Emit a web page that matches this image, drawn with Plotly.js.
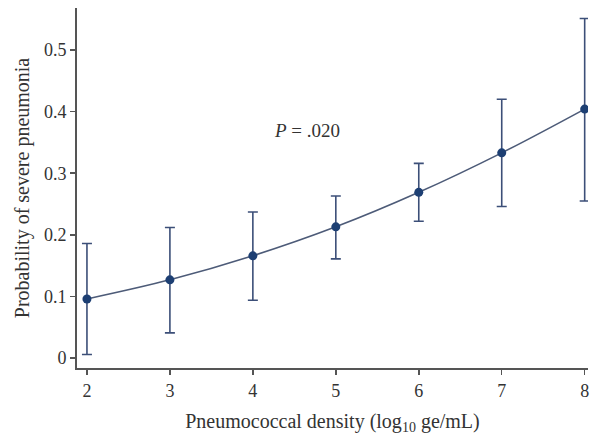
<!DOCTYPE html>
<html>
<head>
<meta charset="utf-8">
<script src="https://cdn.plot.ly/plotly-3.0.1.min.js"></script>
<style>html,body{margin:0;padding:0;background:#fff;}#chart{width:592px;height:437px;}</style>
</head>
<body>
<div id="chart"></div>
<script>
const density = [2, 3, 4, 5, 6, 7, 8];
const probability = [0.096, 0.127, 0.166, 0.213, 0.269, 0.333, 0.404];
const upperCI = [0.186, 0.212, 0.237, 0.263, 0.316, 0.420, 0.551];
const lowerCI = [0.006, 0.041, 0.094, 0.161, 0.222, 0.246, 0.255];
const yTicks = [0, 0.1, 0.2, 0.3, 0.4, 0.5];
const yTickLabels = ["0", "0.1", "0.2", "0.3", "0.4", "0.5"];
const xTicks = [2, 3, 4, 5, 6, 7, 8];

const errPlus = upperCI.map((u, i) => u - probability[i]);
const errMinus = lowerCI.map((l, i) => probability[i] - l);

const font = "'Liberation Serif', 'Times New Roman', serif";

const trace = {
  x: density,
  y: probability,
  type: 'scatter',
  mode: 'lines+markers',
  line: {color: '#4d5b78', width: 1.6, shape: 'spline'},
  marker: {color: '#1d3f73', size: 9},
  error_y: {
    type: 'data', symmetric: false,
    array: errPlus, arrayminus: errMinus,
    color: '#3c4f78', thickness: 1.6, width: 5
  },
  hoverinfo: 'none'
};

const layout = {
  width: 592, height: 437,
  margin: {l: 77, r: 4, t: 8, b: 69},
  paper_bgcolor: '#fff', plot_bgcolor: '#fff',
  showlegend: false,
  font: {family: font, color: '#333', size: 18},
  xaxis: {
    range: [1.88, 8.04],
    tickvals: xTicks,
    ticks: 'outside', ticklen: 5, tickwidth: 1.5, tickcolor: '#555',
    showline: true, linecolor: '#555', linewidth: 2,
    showgrid: false, zeroline: false,
    tickfont: {family: font, size: 18, color: '#333'},
    title: {text: 'Pneumococcal density (log<sub>10</sub> ge/mL)', font: {family: font, size: 20, color: '#333'}, standoff: 14}
  },
  yaxis: {
    range: [-0.016, 0.568],
    tickvals: yTicks, ticktext: yTickLabels,
    ticks: 'outside', ticklen: 5, tickwidth: 1.5, tickcolor: '#555',
    showline: true, linecolor: '#555', linewidth: 2,
    showgrid: false, zeroline: false,
    tickfont: {family: font, size: 18, color: '#333'},
    title: {text: 'Probability of severe pneumonia', font: {family: font, size: 20, color: '#333'}, standoff: 9}
  },
  annotations: [{
    x: 4.65, y: 0.37, xref: 'x', yref: 'y',
    text: '<i>P</i> = .020', showarrow: false,
    font: {family: font, size: 19, color: '#333'}
  }]
};

Plotly.newPlot('chart', [trace], layout, {displayModeBar: false, staticPlot: true});
</script>
</body>
</html>
